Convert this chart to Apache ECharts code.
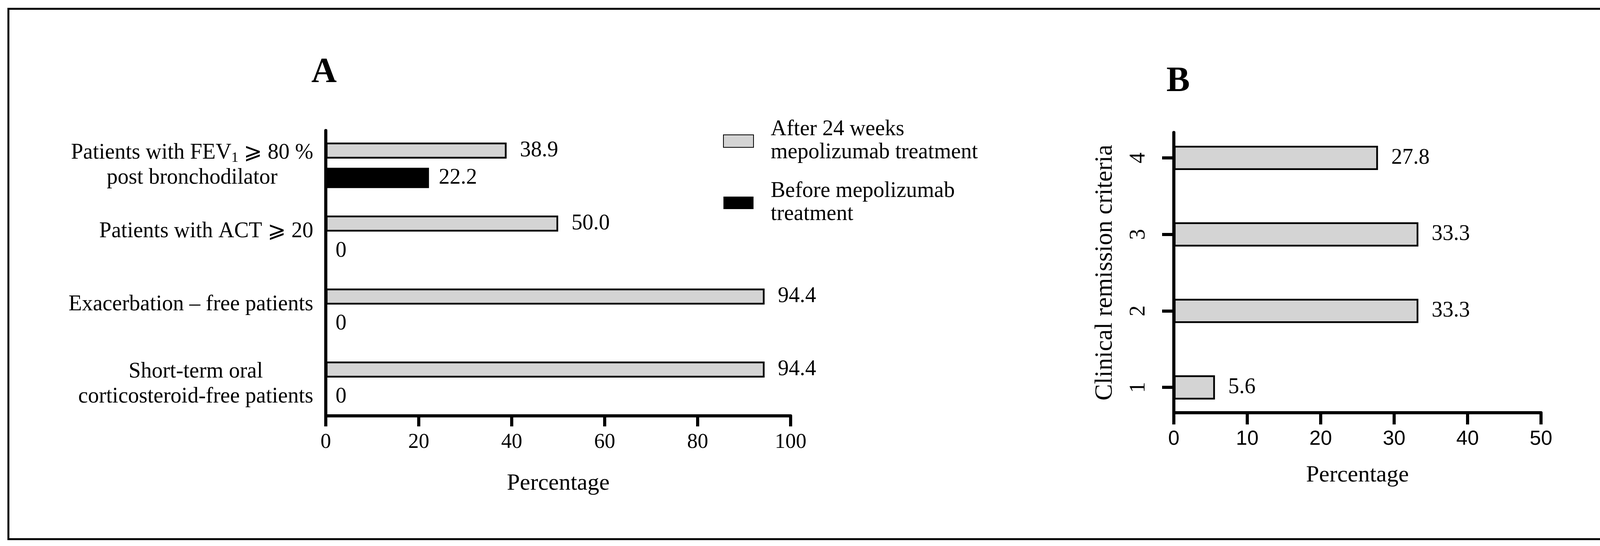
<!DOCTYPE html>
<html><head><meta charset="utf-8">
<script src="https://cdn.jsdelivr.net/npm/echarts@6/dist/echarts.min.js"></script>
<style>
html,body{margin:0;padding:0;background:#fff;overflow:hidden}
#c{width:4197px;height:1397px}
#frame{position:absolute;left:19px;top:20px;width:4150px;height:1352px;border:5px solid #000;pointer-events:none}
</style></head><body>
<div id="c"></div><div id="frame"></div>
<script>
// ---- data ----
const categoriesA = ['Patients with FEV1 ⩾ 80 %\npost bronchodilator', 'Patients with ACT ⩾ 20', 'Exacerbation – free patients', 'Short-term oral\ncorticosteroid-free patients'];
const afterA = [38.9, 50.0, 94.4, 94.4];
const beforeA = [22.2, 0, 0, 0];
const seriesNamesA = ['After 24 weeks\nmepolizumab treatment', 'Before mepolizumab\ntreatment'];
const ticksA = [0, 20, 40, 60, 80, 100];
const titleA = 'A';
const xNameA = 'Percentage';

const categoriesB = ['1', '2', '3', '4'];
const valuesB = [5.6, 33.3, 33.3, 27.8];
const ticksB = [0, 10, 20, 30, 40, 50];
const titleB = 'B';
const xNameB = 'Percentage';
const yNameB = 'Clinical remission criteria';

// ---- helpers ----
const SERIF = '"Liberation Serif", "Times New Roman", "DejaVu Serif", serif';
const SANS = '"Liberation Sans", Arial, sans-serif';
const ctx = document.createElement('canvas').getContext('2d');
function tw(t, size) { ctx.font = size + 'px ' + SERIF; return ctx.measureText(t).width; }
const LBL = 56, SUB = 36;
const rich = {
  m: { fontFamily: SERIF, fontSize: LBL, lineHeight: 64, color: '#000' },
  s: { fontFamily: SERIF, fontSize: SUB, lineHeight: 22, verticalAlign: 'bottom', color: '#000' },
  u: { fontFamily: SERIF, fontSize: LBL, lineHeight: 64, color: '#000', padding: [0, 0, 34, 0] }
};
function lineTokens(l) {
  if (l.indexOf('FEV1') >= 0) {
    const parts = l.split('FEV1');
    return { str: '{m|' + parts[0] + 'FEV}{s|1}{m|' + parts[1] + '}', w: tw(parts[0] + 'FEV', LBL) + tw('1', SUB) + tw(parts[1], LBL), multi: true };
  }
  return { str: l, w: tw(l, LBL), multi: false };
}
const labelTextA = categoriesA.map((name, i) => {
  const lines = name.split('\n');
  if (lines.length === 1) return '{u|' + name + '}';
  const toks = lines.map(lineTokens);
  const W = Math.max(...toks.map(t => t.w));
  rich['w' + i] = { fontFamily: SERIF, fontSize: LBL, lineHeight: 64, color: '#000', width: W, align: 'center' };
  return toks.map(t => t.multi ? t.str : '{w' + i + '|' + t.str + '}').join('\n');
});
const fmtVal = p => (p.value === 0 ? '0' : Number(p.value).toFixed(1));
const black = '#000', gray = '#d4d4d4';
const lineS = { color: black, width: 8 };

const chart = echarts.init(document.getElementById('c'), null, { renderer: 'canvas' });
chart.setOption({
  animation: false,
  backgroundColor: '#fff',
  title: [
    { text: titleA, left: 797, top: 142, padding: 0, textStyle: { fontFamily: SERIF, fontWeight: 'bold', fontSize: 90, color: black } },
    { text: titleB, left: 2986, top: 165, padding: 0, textStyle: { fontFamily: SERIF, fontWeight: 'bold', fontSize: 90, color: black } }
  ],
  legend: {
    orient: 'vertical', left: 1846, top: 297, itemWidth: 77, itemHeight: 32, itemGap: 40,
    icon: 'rect', data: seriesNamesA, selectedMode: false,
    textStyle: { fontFamily: SERIF, fontSize: 56, lineHeight: 59, color: black, padding: [0, 0, 0, 39] }
  },
  grid: [
    { left: 834, top: 329.6, width: 1190, height: 747, outerBoundsMode: 'none', containLabel: false },
    { left: 834, top: 334, width: 1190, height: 730, outerBoundsMode: 'none', containLabel: false },
    { left: 3005, top: 306, width: 940, height: 783, outerBoundsMode: 'none', containLabel: false },
    { left: 3005, top: 339, width: 940, height: 717, outerBoundsMode: 'none', containLabel: false }
  ],
  xAxis: [
    { type: 'value', gridIndex: 0, min: ticksA[0], max: ticksA[ticksA.length - 1], show: false },
    { type: 'value', gridIndex: 1, min: ticksA[0], max: ticksA[ticksA.length - 1], interval: ticksA[1] - ticksA[0],
      axisLine: { show: true, onZero: false, lineStyle: lineS },
      axisTick: { show: true, length: 27, lineStyle: lineS },
      axisLabel: { margin: 41, fontFamily: SERIF, fontSize: 54, color: black },
      splitLine: { show: false },
      name: xNameA, nameLocation: 'middle', nameGap: 143, nameMoveOverlap: false,
      nameTextStyle: { fontFamily: SERIF, fontSize: 60, color: black } },
    { type: 'value', gridIndex: 2, min: ticksB[0], max: ticksB[ticksB.length - 1], show: false },
    { type: 'value', gridIndex: 3, min: ticksB[0], max: ticksB[ticksB.length - 1], interval: ticksB[1] - ticksB[0],
      axisLine: { show: true, onZero: false, lineStyle: lineS },
      axisTick: { show: true, length: 30, lineStyle: lineS },
      axisLabel: { margin: 42, fontFamily: SANS, fontSize: 52, color: black },
      splitLine: { show: false },
      name: xNameB, nameLocation: 'middle', nameGap: 130, nameMoveOverlap: false,
      nameTextStyle: { fontFamily: SERIF, fontSize: 60, color: black } }
  ],
  yAxis: [
    { type: 'category', gridIndex: 0, data: categoriesA, inverse: true,
      axisLine: { show: false }, axisTick: { show: false }, splitLine: { show: false },
      axisLabel: { margin: 32, formatter: (v, i) => labelTextA[i], rich: rich } },
    { type: 'value', gridIndex: 1, min: 0, max: 1,
      axisLine: { show: true, onZero: false, lineStyle: lineS }, axisTick: { show: false }, axisLabel: { show: false }, splitLine: { show: false } },
    { type: 'category', gridIndex: 2, data: categoriesB,
      axisLine: { show: false }, splitLine: { show: false },
      axisTick: { show: true, alignWithLabel: true, length: 30, lineStyle: lineS },
      axisLabel: { rotate: 90, margin: 62, fontFamily: SERIF, fontSize: 56, color: black },
      name: yNameB, nameLocation: 'middle', nameGap: 144, nameMoveOverlap: false,
      nameTextStyle: { fontFamily: SERIF, fontSize: 63, color: black } },
    { type: 'value', gridIndex: 3, min: 0, max: 1,
      axisLine: { show: true, onZero: false, lineStyle: lineS }, axisTick: { show: false }, axisLabel: { show: false }, splitLine: { show: false } }
  ],
  series: [
    { name: seriesNamesA[0], type: 'bar', xAxisIndex: 0, yAxisIndex: 0, data: afterA, barWidth: 41, barGap: '57%',
      itemStyle: { color: gray, borderColor: black, borderWidth: 4.5 },
      label: { show: true, position: 'right', distance: 34, fontFamily: SERIF, fontSize: 56, color: black, formatter: fmtVal } },
    { name: seriesNamesA[1], type: 'bar', xAxisIndex: 0, yAxisIndex: 0, data: beforeA, barWidth: 52, barGap: '57%',
      itemStyle: { color: black, borderWidth: 0 },
      label: { show: true, position: 'right', distance: 25, fontFamily: SERIF, fontSize: 56, color: black, formatter: fmtVal } },
    { name: 'Clinical remission', type: 'bar', xAxisIndex: 2, yAxisIndex: 2, data: valuesB, barWidth: 62,
      itemStyle: { color: gray, borderColor: black, borderWidth: 4.5 },
      label: { show: true, position: 'right', distance: 34, fontFamily: SERIF, fontSize: 56, color: black, formatter: fmtVal } }
  ]
});
</script>
</body></html>
